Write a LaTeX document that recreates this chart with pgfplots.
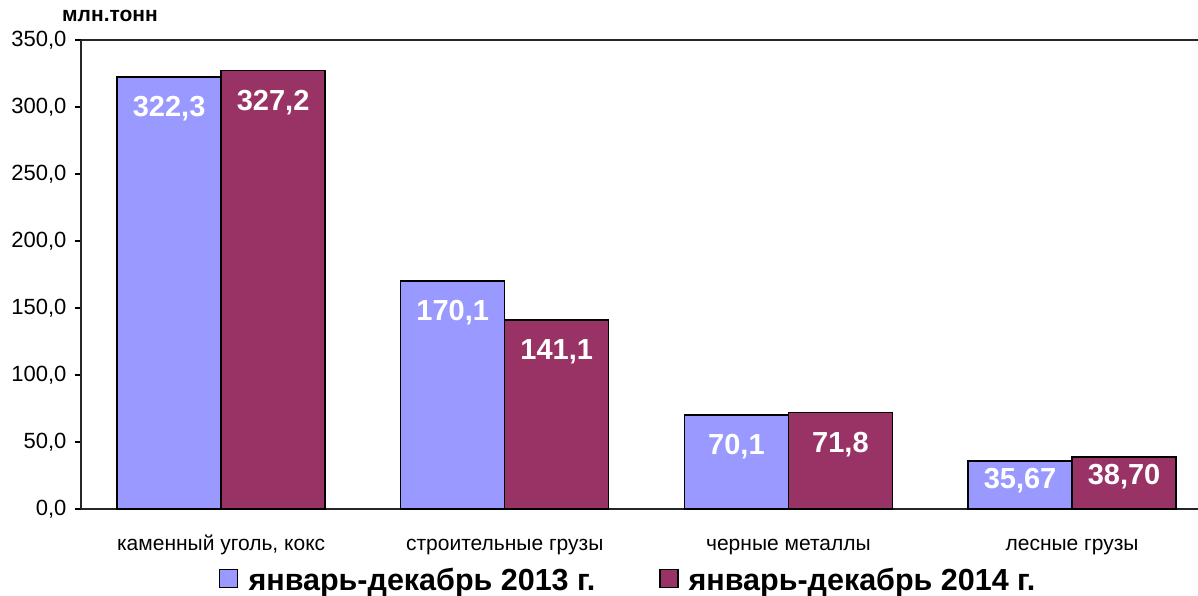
\documentclass[border=0pt]{standalone}
\usepackage{fontspec}
\setmainfont{Liberation Sans}
\usepackage{pgfplots}
\pgfplotsset{compat=1.18}
\usepackage{pgfplotstable}

\definecolor{c13}{HTML}{9999FF}
\definecolor{c14}{HTML}{993366}

% x = category index, y = млн.тонн, label = as printed on the bar
\pgfplotstableread{
x y label
0 322.3 322,3
1 170.1 170,1
2 70.1 70,1
3 35.67 35,67
}\dataA
\pgfplotstableread{
x y label
0 327.2 327,2
1 141.1 141,1
2 71.8 71,8
3 38.70 38,70
}\dataB

\begin{document}
\begin{tikzpicture}[x=1pt,y=1pt]
\path[use as bounding box] (0,0) rectangle (1198,596);
\begin{axis}[
    at={(81pt,87pt)}, anchor=south west,
    scale only axis, width=1117pt, height=469pt,
    ybar=0pt, bar width=104pt,
    xmin=-0.494, xmax=3.444,
    ymin=0, ymax=350,
    axis x line*=box, axis y line*=left,
    axis line style={line width=1.5pt, black!85},
    ytick={0,50,...,350}, ytick pos=left,
    tick align=outside, major tick length=6pt,
    ytick style={line width=1.2pt, black},
    xtick={0,1,2,3}, xtick style={draw=none},
    xticklabels={{каменный уголь, кокс}, {строительные грузы}, {черные металлы}, {лесные грузы}},
    xticklabel style={font=\fontsize{21}{24}\selectfont, text height=15pt, text depth=5pt, yshift=-17pt},
    yticklabel style={font=\fontsize{22}{24}\selectfont, xshift=-5pt,
        /pgf/number format/.cd, fixed, fixed zerofill, precision=1, use comma,
        assume math mode=true},
    nodes near coords,
    point meta=explicit symbolic,
    visualization depends on={rawy \as \ry},
    every node near coord/.append style={font=\bfseries\fontsize{29}{32}\selectfont,
        text=white, anchor=center, yshift={ifthenelse(\ry<50,-19,-32)*1pt}},
    legend columns=2,
    legend style={at={(0.49,-0.151)}, anchor=center, draw=none, fill=none,
        font=\bfseries\fontsize{30.5}{34}\selectfont,
        /tikz/every even column/.append style={column sep=62pt}},
    legend image code/.code={\draw[#1, draw=black, line width=1.2pt] (0pt,-8pt) rectangle (18pt,10pt);
        \path (26pt,0pt);},
    clip=false,
]
\addplot[fill=c13, draw=black, line width=1.4pt] table[x=x, y=y, meta=label] {\dataA};
\addlegendentry{январь-декабрь 2013 г.}
\addplot[fill=c14, draw=black, line width=1.4pt] table[x=x, y=y, meta=label] {\dataB};
\addlegendentry{январь-декабрь 2014 г.}
\node[anchor=base west, font=\bfseries\fontsize{21}{24}\selectfont, inner sep=0pt]
    at ([xshift=-19pt, yshift=18pt]rel axis cs:0,1) {млн.тонн};
\end{axis}
\end{tikzpicture}
\end{document}
